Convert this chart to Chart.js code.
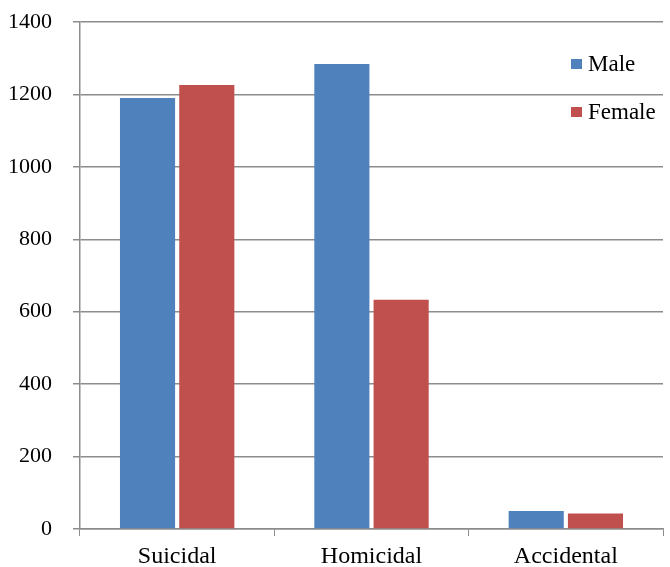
<!DOCTYPE html>
<html>
<head>
<meta charset="utf-8">
<script src="https://cdn.jsdelivr.net/npm/chart.js@4/dist/chart.umd.min.js"></script>
<style>
  html, body { margin: 0; padding: 0; background: #fff; }
  #wrap { width: 670px; height: 567px; }
</style>
</head>
<body>
<div id="wrap"><canvas id="chart"></canvas></div>
<script>
const categories = ["Suicidal", "Homicidal", "Accidental"];
const maleValues = [1190, 1284, 50];
const femaleValues = [1226, 633, 43];
const yTicks = [0, 200, 400, 600, 800, 1000, 1200, 1400];

const axisColor = "#8c8c8c";
const fontFamily = "'Liberation Serif', 'Times New Roman', serif";

// legend drawn inside the plot area, top right
const insideLegend = {
  id: "insideLegend",
  afterDraw(chart) {
    const ctx = chart.ctx;
    const rows = [64, 112];
    ctx.save();
    ctx.font = "23px " + fontFamily;
    ctx.textBaseline = "middle";
    chart.data.datasets.forEach((ds, i) => {
      const y = rows[i];
      ctx.fillStyle = ds.backgroundColor;
      ctx.fillRect(571, y - 5, 11, 10);
      ctx.fillStyle = "#000";
      ctx.fillText(ds.label, 588, y + 1);
    });
    ctx.restore();
  },
};

function initialize() {
  new Chart(document.getElementById("chart").getContext("2d"), {
    type: "bar",
    plugins: [insideLegend],
    data: {
      labels: categories,
      datasets: [
        {
          label: "Male",
          data: maleValues,
          backgroundColor: "#4f81bd",
          categoryPercentage: 0.61,
          barPercentage: 0.93,
        },
        {
          label: "Female",
          data: femaleValues,
          backgroundColor: "#c0504d",
          categoryPercentage: 0.61,
          barPercentage: 0.93,
        },
      ],
    },
    options: {
      responsive: true,
      maintainAspectRatio: false,
      animation: false,
      layout: {
        padding: { top: 22, right: 7, left: 0, bottom: 0 },
      },
      plugins: {
        legend: { display: false },
        tooltip: { enabled: false },
      },
      scales: {
        x: {
          grid: {
            offset: true,
            drawOnChartArea: false,
            color: axisColor,
            tickLength: 7,
          },
          border: { color: axisColor, width: 1.5 },
          ticks: {
            color: "#000",
            font: { family: fontFamily, size: 24 },
            padding: 6,
          },
          afterFit(scale) {
            scale.height = 38;
            scale.paddingLeft = 0;
            scale.paddingRight = 0;
          },
        },
        y: {
          min: 0,
          max: 1400,
          afterBuildTicks(scale) {
            scale.ticks = yTicks.map((v) => ({ value: v }));
          },
          grid: {
            color: axisColor,
            lineWidth: 1.5,
            tickLength: 7,
          },
          border: { color: axisColor, width: 1.5 },
          ticks: {
            color: "#000",
            font: { family: fontFamily, size: 22 },
            padding: 21,
            callback: (v) => String(v),
          },
          afterFit(scale) {
            scale.width = 80;
            scale.paddingTop = 0;
            scale.paddingBottom = 0;
          },
        },
      },
    },
  });
}

initialize();
</script>
</body>
</html>
